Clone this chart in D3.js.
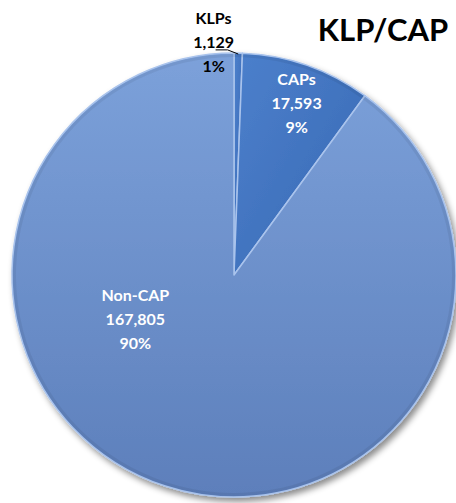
<!DOCTYPE html>
<html>
<head>
<meta charset="utf-8">
<script src="https://cdn.jsdelivr.net/npm/d3@7"></script>
<style>
  body { margin: 0; background: #fff; }
  svg { display: block; font-family: Lato, "Open Sans", sans-serif; }
</style>
</head>
<body>
<svg id="chart" width="456" height="503"></svg>
<script>
// data
var categories = ["KLPs", "CAPs", "Non-CAP"],
    values = [1129, 17593, 167805];

var svg = d3.select("#chart"),
    cx = 234, cy = 275, radius = 222,
    total = d3.sum(values),
    fmtNum = d3.format(","),
    fmtPct = d3.format(".0%");

// label placement (angle in degrees from 12 o'clock, distance from centre)
var labelAt = {
  "KLPs":    { ang: -5,   r: 234, color: "#000" },
  "CAPs":    { ang: 20,   r: 183, color: "#fff" },
  "Non-CAP": { ang: -114, r: 108, color: "#fff" }
};

var defs = svg.append("defs");
var grad = defs.append("linearGradient").attr("id", "gNon")
    .attr("x1", 0).attr("y1", 0).attr("x2", 0).attr("y2", 1);
grad.append("stop").attr("offset", "0%").attr("stop-color", "#7ca1da");
grad.append("stop").attr("offset", "100%").attr("stop-color", "#5d7fbb");
var grad2 = defs.append("linearGradient").attr("id", "gCap")
    .attr("x1", 0).attr("y1", 0).attr("x2", 1).attr("y2", 1);
grad2.append("stop").attr("offset", "0%").attr("stop-color", "#4c80cc");
grad2.append("stop").attr("offset", "100%").attr("stop-color", "#3868b3");
var shadow = defs.append("filter").attr("id", "shadow")
    .attr("x", "-10%").attr("y", "-10%").attr("width", "125%").attr("height", "125%");
shadow.append("feDropShadow").attr("dx", 3).attr("dy", 4)
    .attr("stdDeviation", 3).attr("flood-color", "#000").attr("flood-opacity", 0.45);

var color = d3.scaleOrdinal()
    .domain(categories)
    .range(["url(#gCap)", "url(#gCap)", "url(#gNon)"]);

var pie = d3.pie().sort(null).value(function (d, i) { return values[i]; });
var arcs = pie(categories);
var arc = d3.arc().innerRadius(0).outerRadius(radius);

var g = svg.append("g").attr("transform", "translate(" + cx + "," + cy + ")");

g.append("g").attr("filter", "url(#shadow)")
  .selectAll("path").data(arcs).enter().append("path")
    .attr("d", arc)
    .attr("fill", function (d) { return color(d.data); })
    .attr("stroke", "#a9c3ec")
    .attr("stroke-width", 1.5)
    .attr("stroke-linejoin", "round");

// darker inner rim to mimic the bevel
g.selectAll("path.rim").data(arcs).enter().append("path")
    .attr("class", "rim")
    .attr("d", d3.arc().innerRadius(radius - 4).outerRadius(radius - 1))
    .attr("fill", "#000").attr("opacity", 0.06);

function pos(name) {
  var l = labelAt[name], a = l.ang * Math.PI / 180;
  return [Math.sin(a) * l.r, -Math.cos(a) * l.r];
}

var labels = g.selectAll("g.lbl").data(arcs).enter().append("g")
    .attr("class", "lbl")
    .attr("transform", function (d) { return "translate(" + pos(d.data) + ")"; });

labels.each(function (d, i) {
  var lines = [d.data, fmtNum(values[i]), fmtPct(values[i] / total)];
  d3.select(this).selectAll("text").data(lines).enter().append("text")
      .attr("text-anchor", "middle")
      .attr("y", function (t, k) { return (k - 1) * 24 + 6; })
      .attr("fill", labelAt[d.data].color)
      .style("font-size", "16px")
      .style("font-weight", "bold")
      .text(function (t) { return t; });
});

// leader line for the small slice
var klp = arcs[0], p = pos("KLPs");
var edge = d3.arc().innerRadius(radius).outerRadius(radius).centroid(klp);
g.append("path")
    .attr("d", "M" + (p[0] + 2) + "," + (p[1] + 8) + "L" + (p[0] + 14) + "," + (p[1] + 8) + "L" + edge[0] + "," + (edge[1] + 1))
    .attr("fill", "none").attr("stroke", "#000").attr("stroke-width", 1);

svg.append("text")
    .attr("x", 383).attr("y", 41)
    .attr("text-anchor", "middle")
    .style("font-size", "31px")
    .style("font-weight", "bold")
    .attr("fill", "#000")
    .text("KLP/CAP");
</script>
</body>
</html>
